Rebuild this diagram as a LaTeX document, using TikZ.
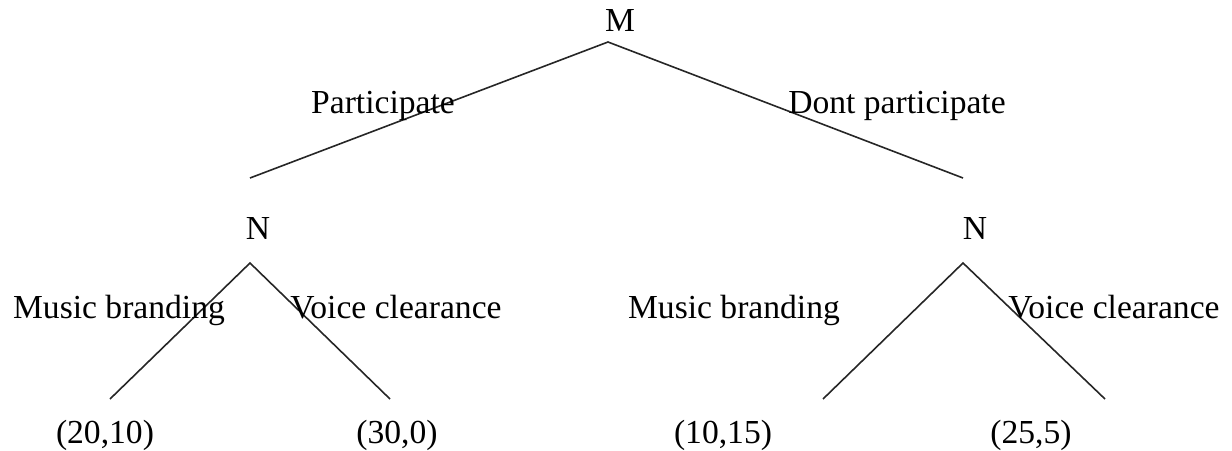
\documentclass[tikz,border=0pt]{standalone}
\usepackage{fontspec}
\setmainfont{Liberation Serif}
\begin{document}
\begin{tikzpicture}[x=0.5pt,y=-0.5pt,
  lbl/.style={inner sep=0pt,anchor=base,font=\fontsize{16.8pt}{20pt}\selectfont},
  edge/.style={draw=black!85,line width=0.8pt}]
\useasboundingbox (0,0) rectangle (1232,450);
% players
\node[lbl] (M) at (620,31) {M};
\node[lbl] (N1) at (258,239) {N};
\node[lbl] (N2) at (975,239) {N};
% branch points
\coordinate (a0) at (608,42);
\coordinate (a1) at (250,178);
\coordinate (a2) at (963,178);
\coordinate (b1) at (250,263);
\coordinate (b2) at (963,263);
\coordinate (l1) at (110,399);
\coordinate (l2) at (390,399);
\coordinate (l3) at (823,399);
\coordinate (l4) at (1105,399);
\draw[edge] (a1) -- (a0) -- (a2);
\draw[edge] (l1) -- (b1) -- (l2);
\draw[edge] (l3) -- (b2) -- (l4);
% action labels
\node[lbl] (p1) at (383,113) {Participate};
\node[lbl] (p2) at (897,113) {Dont participate};
\node[lbl] (m1) at (119,318) {Music branding};
\node[lbl] (v1) at (396,318) {Voice clearance};
\node[lbl] (m2) at (734,318) {Music branding};
\node[lbl] (v2) at (1114,318) {Voice clearance};
% payoffs
\node[lbl] (o1) at (105,443) {(20,10)};
\node[lbl] (o2) at (397,443) {(30,0)};
\node[lbl] (o3) at (723,443) {(10,15)};
\node[lbl] (o4) at (1031,443) {(25,5)};
\end{tikzpicture}
\end{document}
